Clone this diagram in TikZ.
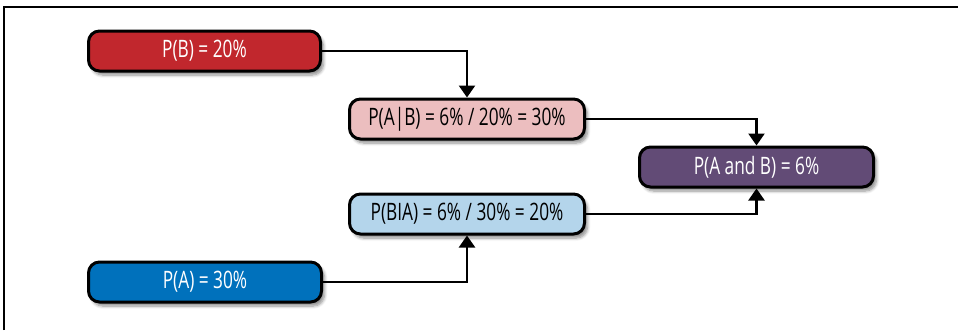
\documentclass[tikz,border=0pt]{standalone}
\usepackage{fontspec}
\setmainfont{Open Sans}[FakeStretch=0.72]
\usetikzlibrary{shadows.blur,arrows.meta}
\definecolor{cred}{HTML}{C1272D}
\definecolor{cpink}{HTML}{ECBEBF}
\definecolor{cpurple}{HTML}{624B76}
\definecolor{clblue}{HTML}{B4D5EB}
\definecolor{cblue}{HTML}{0071BC}
\tikzset{
  probbox/.style={draw=black, line width=3pt, rounded corners=11pt,
    minimum width=#1, minimum height=40pt, inner sep=0pt,
    font=\fontsize{24}{28}\selectfont,
    blur shadow={shadow xshift=3pt, shadow yshift=-4pt, shadow blur steps=6, shadow blur radius=3pt, shadow opacity=45}},
  conn/.style={line width=2.4pt, -{Triangle[width=16pt,length=12pt]}}
}
\begin{document}
\begin{tikzpicture}[x=1pt,y=-1pt]
\useasboundingbox (0,0) rectangle (958,330);
\draw[line width=1.8pt] (4,330) -- (4,7) -- (958,7);
\node[probbox=232pt, fill=cred, text=white] (pb) at (204.5,51) {P(B) = 20\%};
\node[probbox=235pt, fill=cpink, text=black] (pab) at (467,119) {P(A|B) = 6\% / 20\% = 30\%};
\node[probbox=234pt, fill=cpurple, text=white] (pand) at (756.5,167) {P(A and B) = 6\%};
\node[probbox=235pt, fill=clblue, text=black] (pba) at (467,214) {P(BIA) = 6\% / 30\% = 20\%};
\node[probbox=233pt, fill=cblue, text=white] (pa) at (205,282) {P(A) = 30\%};
\draw[conn] (pb.east) -| (pab.north);
\draw[conn] (pab.east) -| (pand.north);
\draw[conn] (pa.east) -| (pba.south);
\draw[conn] (pba.east) -| (pand.south);
\end{tikzpicture}
\end{document}
